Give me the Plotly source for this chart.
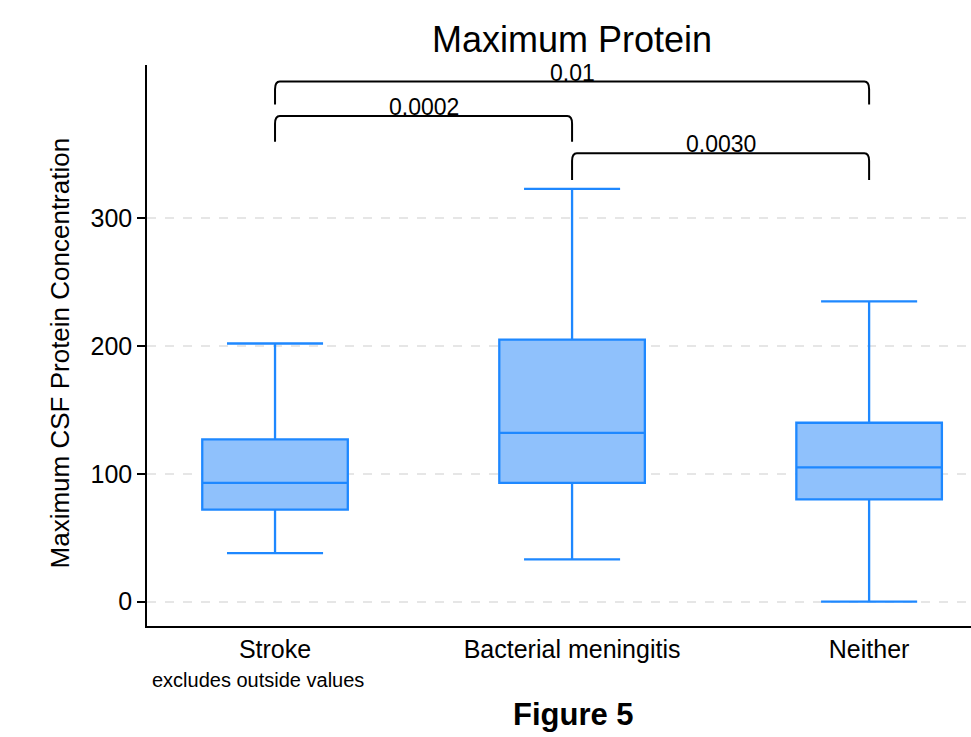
import plotly.graph_objects as go

# ---- data ----
categories = ["Stroke", "Bacterial meningitis", "Neither"]
lower_whisker = [38, 33, 0]
q1 = [72, 93, 80]
median = [93, 132, 105]
q3 = [127, 205, 140]
upper_whisker = [202, 323, 235]

yticks = [0, 100, 200, 300]

# significance brackets: (left group idx, right group idx, label, top value, leg bottom value)
bracket_left = [0, 0, 1]
bracket_right = [2, 1, 2]
bracket_label = ["0.01", "0.0002", "0.0030"]
bracket_top = [407, 380, 351]
bracket_bottom = [389, 360, 330]

FONT = "Liberation Sans, Arial, Helvetica, sans-serif"
LINE = "#1E88FF"
FILL = "#8FC1FC"

fig = go.Figure()
for i, cat in enumerate(categories):
    fig.add_trace(go.Box(
        x=[i], q1=[q1[i]], median=[median[i]], q3=[q3[i]],
        lowerfence=[lower_whisker[i]], upperfence=[upper_whisker[i]],
        name=cat, width=0.49, whiskerwidth=0.66,
        fillcolor=FILL, line=dict(color=LINE, width=2.3),
        boxpoints=False, showlegend=False, hoverinfo="skip",
    ))

shapes = []
annotations = []
rx, ry = 0.016, 6
for a, b, lab, top, bot in zip(bracket_left, bracket_right, bracket_label, bracket_top, bracket_bottom):
    path = (f"M {a},{bot} L {a},{top-ry} Q {a},{top} {a+rx},{top} "
            f"L {b-rx},{top} Q {b},{top} {b},{top-ry} L {b},{bot}")
    shapes.append(dict(type="path", path=path, xref="x", yref="y",
                       line=dict(color="black", width=2)))
    annotations.append(dict(x=(a + b) / 2, y=top, xref="x", yref="y", text=lab,
                            showarrow=False, yanchor="bottom", yshift=-6,
                            font=dict(size=23, color="black", family=FONT)))

annotations += [
    dict(text="Maximum Protein", x=0.516, y=1.046, xref="paper", yref="paper",
         showarrow=False, xanchor="center", yanchor="middle",
         font=dict(size=36, color="black", family=FONT)),
    dict(text="Maximum CSF Protein Concentration", x=-0.106, y=0.487,
         xref="paper", yref="paper", showarrow=False, textangle=-90,
         xanchor="center", yanchor="middle",
         font=dict(size=26, color="black", family=FONT)),
    dict(text="excludes outside values", x=0.004, y=-0.096, xref="paper", yref="paper",
         showarrow=False, xanchor="left", yanchor="middle",
         font=dict(size=20, color="black", family=FONT)),
    dict(text="<b>Figure 5</b>", x=0.518, y=-0.1586, xref="paper", yref="paper",
         showarrow=False, xanchor="center", yanchor="middle",
         font=dict(size=31, color="black", family=FONT)),
]

fig.update_layout(
    width=971, height=737,
    margin=dict(l=147, r=0, t=65, b=111),
    paper_bgcolor="white", plot_bgcolor="white",
    font=dict(family=FONT, color="black", size=25),
    shapes=shapes, annotations=annotations,
    xaxis=dict(range=[-0.431, 2.343], tickvals=list(range(len(categories))),
               ticktext=categories, showline=True, linecolor="black", linewidth=1.5,
               showgrid=False, zeroline=False, ticks="", ticklabelstandoff=0,
               tickfont=dict(size=25, family=FONT, color="black")),
    yaxis=dict(range=[-19.1, 420], tickvals=yticks, showline=True, linecolor="black",
               linewidth=1.5, ticks="outside", ticklen=8, tickwidth=1.5, tickcolor="black",
               showgrid=True, gridcolor="#E6E6E6", gridwidth=1.5, griddash="dash",
               zeroline=False, tickfont=dict(size=25, family=FONT, color="black")),
)

fig.write_html("out.html")
